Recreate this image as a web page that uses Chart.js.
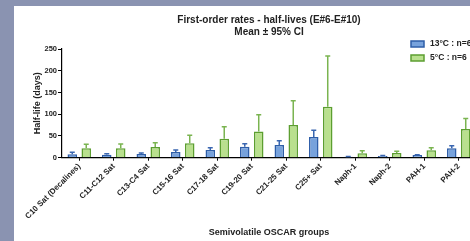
<!DOCTYPE html>
<html>
<head>
<meta charset="utf-8">
<script src="https://cdn.jsdelivr.net/npm/chart.js@4/dist/chart.umd.min.js"></script>
<style>
html,body{margin:0;padding:0;width:470px;height:241px;overflow:hidden;background:#8a93b1;}
#panel{position:absolute;left:14px;top:6px;width:510px;height:235px;background:#ffffff;}
#c{position:absolute;left:0;top:0;}
</style>
</head>
<body>
<div id="panel"><canvas id="c" width="510" height="235"></canvas></div>
<script>
const categories = ['C10 Sat (Decalines)','C11-C12 Sat','C13-C4 Sat','C15-16 Sat','C17-18 Sat','C19-20 Sat','C21-25 Sat','C25+ Sat','Naph-1','Naph-2','PAH-1','PAH-2'];
const mean13 = [8, 7, 8.5, 13, 17.7, 25.3, 29, 47.7, 2.4, 4, 6, 22];
const upper13 = [12.4, 9, 11, 17.7, 23, 32, 39, 63, 3, 5, 7, 27.7];
const mean5 = [21.6, 22, 24.6, 33, 43.8, 60, 75, 117, 10, 11, 17, 66];
const upper5 = [31, 31.6, 34.6, 51.6, 71.4, 99, 131, 234, 16, 14.7, 23, 90];
const yTicks = [0, 50, 100, 150, 200, 250];
const seriesLabels = ['13°C : n=6', '5°C : n=6'];

const FONT = "'Liberation Sans', Arial, sans-serif";

const errorBars = {
  id: 'errorBars',
  afterDatasetsDraw(chart) {
    const ctx = chart.ctx;
    const y = chart.scales.y;
    chart.data.datasets.forEach((ds, i) => {
      const meta = chart.getDatasetMeta(i);
      meta.data.forEach((bar, j) => {
        const top = y.getPixelForValue(ds.errUpper[j]);
        const base = y.getPixelForValue(ds.data[j]);
        ctx.save();
        ctx.strokeStyle = ds.errColor;
        ctx.lineWidth = 1.5;
        ctx.beginPath();
        ctx.moveTo(bar.x, base);
        ctx.lineTo(bar.x, top);
        ctx.moveTo(bar.x - 2.5, top);
        ctx.lineTo(bar.x + 2.5, top);
        ctx.stroke();
        ctx.restore();
      });
    });
  }
};

const customLegend = {
  id: 'customLegend',
  afterDraw(chart) {
    const ctx = chart.ctx;
    ctx.save();
    ctx.font = "bold 8.5px " + FONT;
    ctx.textBaseline = 'middle';
    chart.data.datasets.forEach((ds, i) => {
      const bx = 397, by = 35 + i * 14;
      ctx.fillStyle = ds.backgroundColor;
      ctx.strokeStyle = ds.borderColor;
      ctx.lineWidth = 1.5;
      ctx.fillRect(bx, by, 13, 6);
      ctx.strokeRect(bx, by, 13, 6);
      ctx.fillStyle = '#222';
      ctx.fillText(ds.label, bx + 19, by + 3);
    });
    ctx.restore();
  }
};

new Chart(document.getElementById('c'), {
  type: 'bar',
  data: {
    labels: categories,
    datasets: [
      {label: seriesLabels[0], data: mean13, errUpper: upper13, backgroundColor: '#77a2dc', borderColor: '#2e5ea8', borderWidth: 1.5, errColor: '#3a66b0'},
      {label: seriesLabels[1], data: mean5, errUpper: upper5, backgroundColor: '#b9e08e', borderColor: '#5c9e30', borderWidth: 1.5, errColor: '#7ab450'}
    ]
  },
  options: {
    responsive: false,
    animation: false,
    devicePixelRatio: 1,
    categoryPercentage: 0.81,
    barPercentage: 0.68,
    layout: {padding: {left: 0, right: 0, top: 0, bottom: 0}},
    plugins: {
      legend: {display: false},
      tooltip: {enabled: false},
      title: {
        display: true,
        text: ['First-order rates - half-lives (E#6-E#10)', 'Mean ± 95% CI'],
        color: '#222',
        font: {family: FONT, size: 10, weight: 'bold', lineHeight: 1.2},
        padding: {top: 8, bottom: 11}
      }
    },
    scales: {
      x: {
        grid: {display: true, drawOnChartArea: false, drawTicks: true, tickLength: 3, color: '#000', offset: false},
        border: {color: '#000', width: 1.2},
        ticks: {color: '#222', font: {family: FONT, size: 8, weight: 'bold'}, minRotation: 45, maxRotation: 45, autoSkip: false, padding: 1},
        title: {display: true, text: 'Semivolatile OSCAR groups', color: '#222', font: {family: FONT, size: 9, weight: 'bold'}, padding: {top: 0, bottom: 3}},
        afterFit(s) { s.height = 83.3; }
      },
      y: {
        min: 0, max: 250,
        afterBuildTicks(s) { s.ticks = yTicks.map(v => ({value: v})); },
        grid: {display: true, drawOnChartArea: false, drawTicks: true, tickLength: 4, color: '#000'},
        border: {color: '#000', width: 1.2},
        ticks: {color: '#222', font: {family: FONT, size: 7.5, weight: 'bold'}, padding: 1},
        title: {display: true, text: 'Half-life (days)', color: '#222', font: {family: FONT, size: 9, weight: 'bold'}, padding: {top: 18, bottom: 0}},
        afterFit(s) { s.width = 48; }
      },
      yRightSpace: {
        type: 'linear', position: 'right', min: 0, max: 250,
        grid: {display: false}, border: {display: false}, ticks: {display: false},
        afterFit(s) { s.width = 48; }
      }
    }
  },
  plugins: [errorBars, customLegend]
});
</script>
</body>
</html>
